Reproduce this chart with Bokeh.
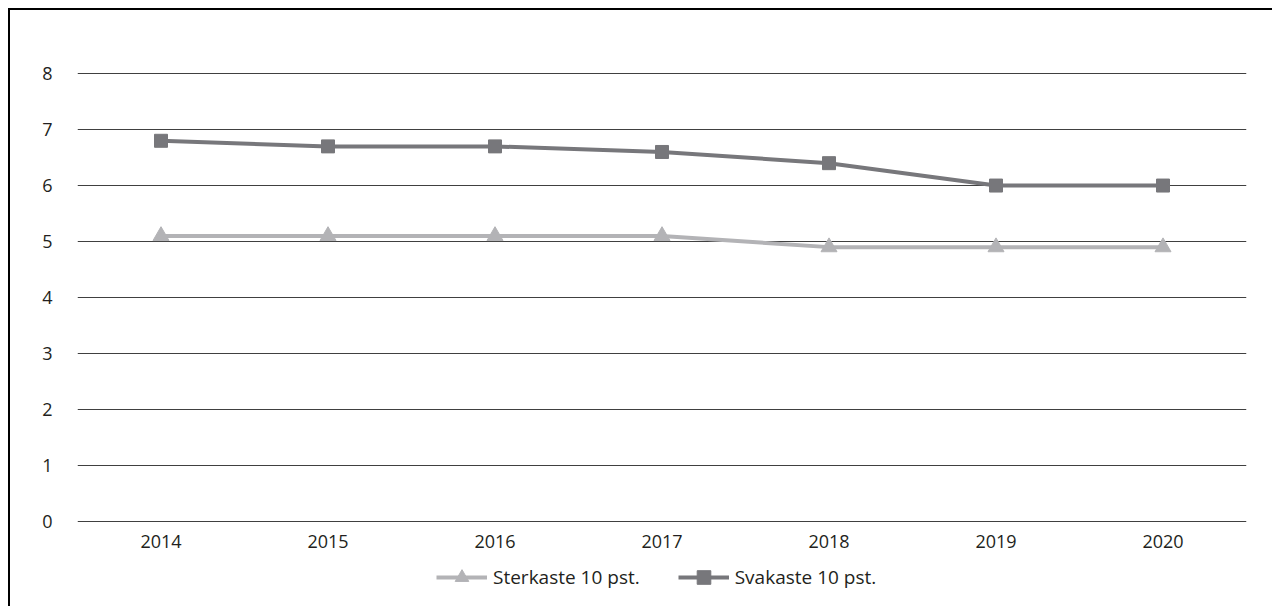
from bokeh.plotting import figure
from bokeh.models import ColumnDataSource, Legend, LegendItem, FixedTicker, Range1d
from bokeh.layouts import column
from bokeh.embed import file_html
from bokeh.resources import INLINE

years = ["2014", "2015", "2016", "2017", "2018", "2019", "2020"]
sterkaste = [5.1, 5.1, 5.1, 5.1, 4.9, 4.9, 4.9]
svakaste = [6.8, 6.7, 6.7, 6.6, 6.4, 6.0, 6.0]
y_ticks = [0, 1, 2, 3, 4, 5, 6, 7, 8]
label_s = "Sterkaste 10 pst."
label_v = "Svakaste 10 pst."

FONT = "Open Sans"
TXT = "#231f20"
LIGHT = "#b3b3b6"
DARK = "#77777b"

W = 1262
H_MAIN = 62 + 450 + 32
H_LEG = 52

src = ColumnDataSource(dict(x=years, s=sterkaste, v=svakaste))

p = figure(x_range=years, y_range=Range1d(-0.02, 8.02), width=W, height=H_MAIN,
           output_backend="svg", toolbar_location=None,
           min_border_left=67, min_border_right=26, min_border_top=62,
           min_border_bottom=32)
p.outline_line_color = None
p.background_fill_color = "white"
p.border_fill_color = "white"

p.xgrid.grid_line_color = None
p.ygrid.grid_line_color = "#404040"
p.ygrid.grid_line_width = 1
p.yaxis.ticker = FixedTicker(ticks=y_ticks)

for ax in (p.xaxis[0], p.yaxis[0]):
    ax.axis_line_color = None
    ax.major_tick_line_color = None
    ax.minor_tick_line_color = None
    ax.major_label_text_font = FONT
    ax.major_label_text_font_size = "18px"
    ax.major_label_text_color = TXT
p.yaxis.major_label_standoff = 19
p.xaxis.major_label_standoff = 6

p.line("x", "s", source=src, line_color=LIGHT, line_width=4)
p.scatter("x", "s", source=src, marker="triangle", size=16,
          fill_color=LIGHT, line_color=LIGHT)
p.line("x", "v", source=src, line_color=DARK, line_width=4)
p.scatter("x", "v", source=src, marker="square", size=13,
          fill_color=DARK, line_color=DARK)

# legend strip below the chart (legend-only glyphs, placed outside the visible range)
q = figure(width=W, height=H_LEG, x_range=Range1d(0, 1), y_range=Range1d(0, 1),
           output_backend="svg", toolbar_location=None,
           min_border=0, outline_line_color=None)
q.axis.visible = False
q.grid.visible = False
q.background_fill_color = "white"
q.border_fill_color = "white"
dummy = ColumnDataSource(dict(x=[-5, -4], y=[-5, -4]))
ls = q.line("x", "y", source=dummy, line_color=LIGHT, line_width=4)
ms = q.scatter("x", "y", source=dummy, marker="triangle", size=16,
               fill_color=LIGHT, line_color=LIGHT)
lv = q.line("x", "y", source=dummy, line_color=DARK, line_width=4)
mv = q.scatter("x", "y", source=dummy, marker="square", size=13,
               fill_color=DARK, line_color=DARK)
legend = Legend(items=[LegendItem(label=label_s, renderers=[ls, ms]),
                       LegendItem(label=label_v, renderers=[lv, mv])],
                orientation="horizontal", location=(359, 12),
                border_line_color=None, background_fill_alpha=0,
                label_text_font=FONT, label_text_font_size="19px",
                label_text_color=TXT, glyph_width=51, glyph_height=34,
                spacing=38, padding=0, margin=0, label_standoff=6)
q.add_layout(legend, "center")

layout = column(p, q, spacing=0,
                styles={"border-left": "2px solid black", "border-top": "2px solid black",
                        "margin-left": "8px", "margin-top": "8px"})

open("out.html", "w").write(file_html(layout, INLINE))
